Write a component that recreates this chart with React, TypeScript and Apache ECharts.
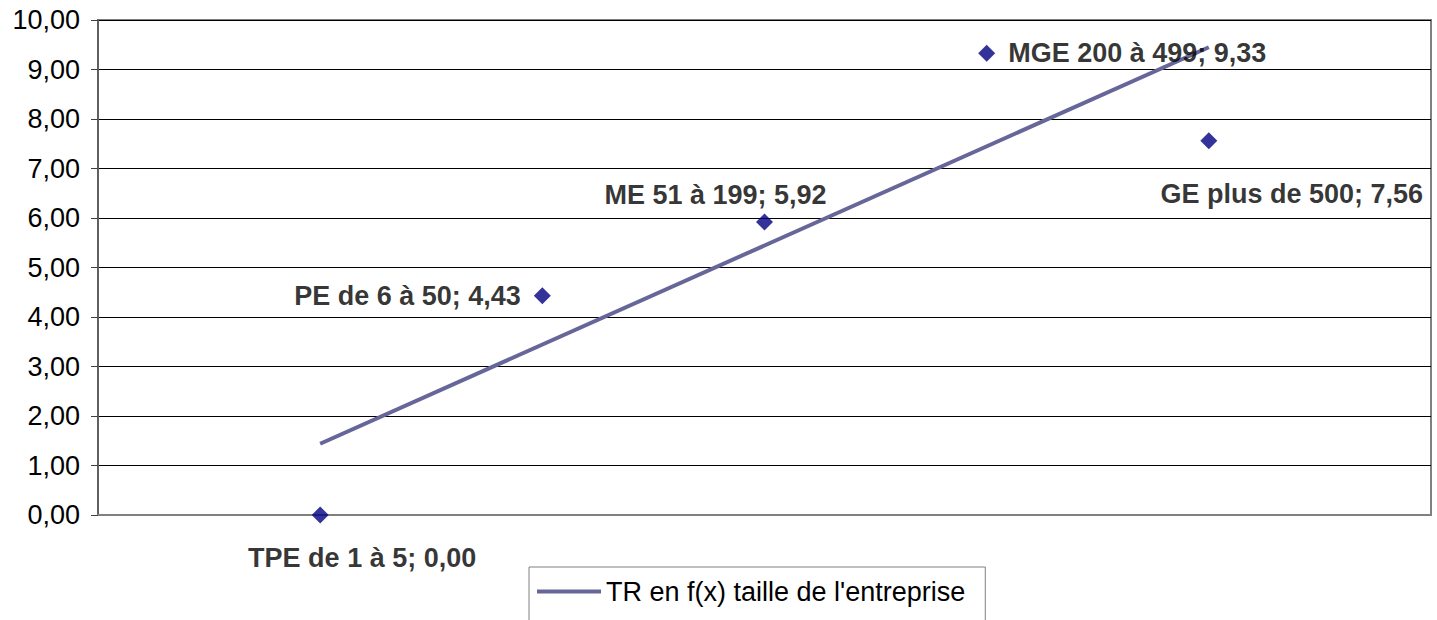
import React, { useEffect, useRef } from "react";
import * as echarts from "echarts";

const categories = ["TPE de 1 à 5", "PE de 6 à 50", "ME 51 à 199", "MGE 200 à 499", "GE plus de 500"];
const positions = [1, 2, 3, 4, 5];
const values = [0.0, 4.43, 5.92, 9.33, 7.56];
const trendX = [1, 5];
const trendY = [1.44, 9.45];
const trendName = "TR en f(x) taille de l'entreprise";

const fmt = (v: number) => v.toFixed(2).replace(".", ",");

const labelPlacement: any[] = [
  { position: "bottom", distance: 0, offset: [42, 21] },
  { position: "left", distance: 13, offset: [0, 0] },
  { position: "top", distance: 0, offset: [-49, -5] },
  { position: "right", distance: 13, offset: [0, 0] },
  { position: "bottom", distance: 0, offset: [83, 31] },
];

export default function App() {
  const ref = useRef<HTMLDivElement>(null);
  useEffect(() => {
    const chart = echarts.init(ref.current!, null, { renderer: "svg" });
    const font = "Liberation Sans, Arial, sans-serif";
    chart.setOption({
      animation: false,
      backgroundColor: "#ffffff",
      grid: {
        left: 98,
        right: 6,
        top: 20,
        bottom: 105,
        show: true,
        borderColor: "#808080",
        borderWidth: 2,
        backgroundColor: "transparent",
      },
      xAxis: {
        type: "value",
        min: 0,
        max: 6,
        axisLabel: { show: false },
        axisTick: { show: false },
        splitLine: { show: false },
        axisLine: { show: true, lineStyle: { color: "#808080", width: 2 } },
      },
      yAxis: {
        type: "value",
        min: 0,
        max: 10,
        interval: 1,
        axisLabel: {
          formatter: (v: number) => fmt(v),
          fontFamily: font,
          fontSize: 27,
          color: "#000",
          margin: 18,
        },
        axisTick: { show: true, length: 7, lineStyle: { color: "#404040", width: 1 } },
        axisLine: { show: true, lineStyle: { color: "#606060", width: 2 } },
        splitLine: { show: true, lineStyle: { color: "#000", width: 1 } },
      },
      legend: {
        show: true,
        data: [trendName],
        left: 529,
        top: 567,
        orient: "horizontal",
        icon: "rect",
        itemWidth: 64,
        itemHeight: 4,
        itemGap: 6,
        padding: [11, 20, 30, 8],
        borderColor: "#808080",
        borderWidth: 1,
        borderRadius: 0,
        backgroundColor: "#fff",
        textStyle: { fontFamily: font, fontSize: 27, color: "#000" },
      },
      series: [
        {
          name: trendName,
          type: "line",
          data: trendX.map((x, i) => [x, trendY[i]]),
          showSymbol: false,
          symbol: "none",
          lineStyle: { color: "#666699", width: 4 },
          itemStyle: { color: "#666699" },
          z: 3,
        },
        {
          name: "points",
          type: "scatter",
          symbol: "diamond",
          symbolSize: 17,
          itemStyle: { color: "#000080" },
          z: 4,
          data: positions.map((x, i) => ({
            value: [x, values[i]],
            name: categories[i],
            label: {
              show: true,
              formatter: `${categories[i]}; ${fmt(values[i])}`,
              position: labelPlacement[i].position,
              distance: labelPlacement[i].distance,
              offset: labelPlacement[i].offset,
              fontFamily: font,
              fontWeight: "bold",
              fontSize: 27,
              color: "#000",
            },
          })),
        },
      ],
    });
    return () => chart.dispose();
  }, []);
  return (
    <div
      ref={ref}
      style={{ position: "fixed", left: 0, top: 0, width: 1437, height: 620, background: "#fff" }}
    />
  );
}
